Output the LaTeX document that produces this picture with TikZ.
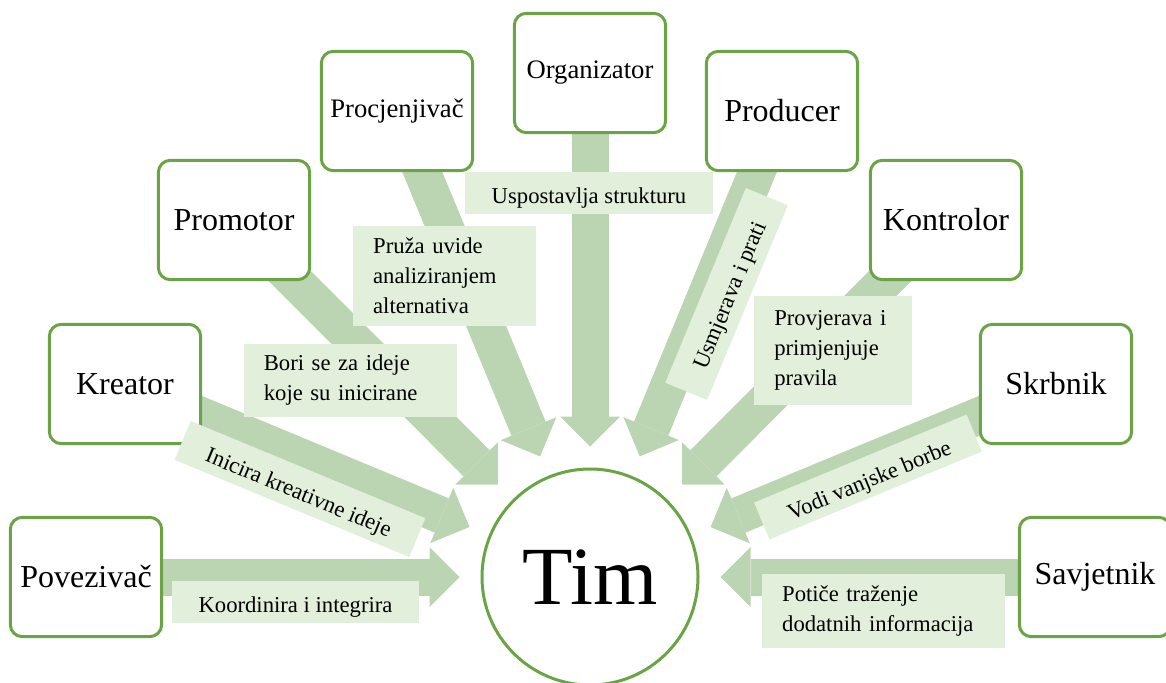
\documentclass[tikz,border=0pt]{standalone}
\usepackage{fontspec}
\setmainfont{Liberation Serif}
\usepackage{tikz}
\usetikzlibrary{arrows.meta,backgrounds}
\definecolor{rolegreen}{RGB}{106,164,70}
\definecolor{flowgreen}{RGB}{187,212,177}
\definecolor{notegreen}{RGB}{226,239,218}

\begin{document}
\begin{tikzpicture}[x=0.75pt, y=-0.75pt,
  rolebox/.style={draw=rolegreen, line width=2.25pt, fill=white, rounded corners=9pt, minimum width=113.5pt, minimum height=89.5pt, inner sep=0, font=\fontsize{24}{28}\selectfont},
  smallrole/.style={rolebox, font=\fontsize{20}{24}\selectfont},
  flow/.style={draw=flowgreen, line width=27.75pt, -{Triangle[length=22.5pt 0 0, width=45pt 0 0, line width=0pt 0 0]}, shorten >=15.75pt},
  note/.style={fill=notegreen, inner sep=0, font=\fontsize{17}{22.5}\selectfont},
  noteline/.style={note, text height=16pt, text depth=0pt},
  noteblock/.style={note, align=left, inner xsep=15pt}]
\useasboundingbox (0,0) rectangle (1166,682);
%roles
\node[rolebox] (pov) at (86,577) {Povezivač};
\node[rolebox] (kre) at (125,384) {Kreator};
\node[rolebox] (pro) at (234,220) {Promotor};
\node[smallrole] (proc) at (397,111) {Procjenjivač};
\node[smallrole] (org) at (590,73) {Organizator};
\node[rolebox] (prod) at (782,111) {Producer};
\node[rolebox] (kon) at (946,220) {Kontrolor};
\node[rolebox] (skr) at (1056,384) {Skrbnik};
\node[rolebox] (sav) at (1095,577) {Savjetnik};
\node[circle, draw=rolegreen, line width=2.25pt, fill=white, minimum size=162pt, inner sep=0, font=\fontsize{62}{70}\selectfont] (tim) at (590,577) {Tim};
\begin{scope}[on background layer]
\draw[flow] (pov.center) -- (tim);
\draw[flow] (kre.center) -- (tim);
\draw[flow] (pro.center) -- (tim);
\draw[flow] (proc.center) -- (tim);
\draw[flow] (org.center) -- (tim);
\draw[flow] (prod.center) -- (tim);
\draw[flow] (kon.center) -- (tim);
\draw[flow] (skr.center) -- (tim);
\draw[flow] (sav.center) -- (tim);
\end{scope}
%labels
\node[noteline, minimum width=185pt, minimum height=32pt] (n1) at (295.5,602) {Koordinira i integrira};
\node[noteline, minimum width=190.5pt, minimum height=31.5pt, rotate=-22.5] (n2) at (300,489) {Inicira kreativne ideje};
\node[noteblock, text width=130pt, minimum height=55pt] (n3) at (350.5,380.5) {Bori se za ideje\\koje su inicirane};
\node[noteblock, text width=107pt, minimum height=75pt] (n4) at (444.5,276) {Pruža uvide\\analiziranjem\\alternativa};
\node[noteline, minimum width=186pt, minimum height=31.5pt] (n5) at (589,193) {Uspostavlja strukturu};
\node[noteline, minimum width=158pt, minimum height=34pt, rotate=67.5] (n6) at (726.5,294) {Usmjerava i prati};
\node[noteblock, text width=88pt, minimum height=82pt] (n7) at (833,350.5) {Provjerava i\\primjenjuje\\pravila};
\node[noteline, minimum width=172.5pt, minimum height=30pt, rotate=22.5] (n8) at (868,477) {Vodi vanjske borbe};
\node[noteblock, text width=152pt, minimum height=55.5pt] (n9) at (883.5,611) {Potiče traženje\\dodatnih informacija};
\end{tikzpicture}
\end{document}
